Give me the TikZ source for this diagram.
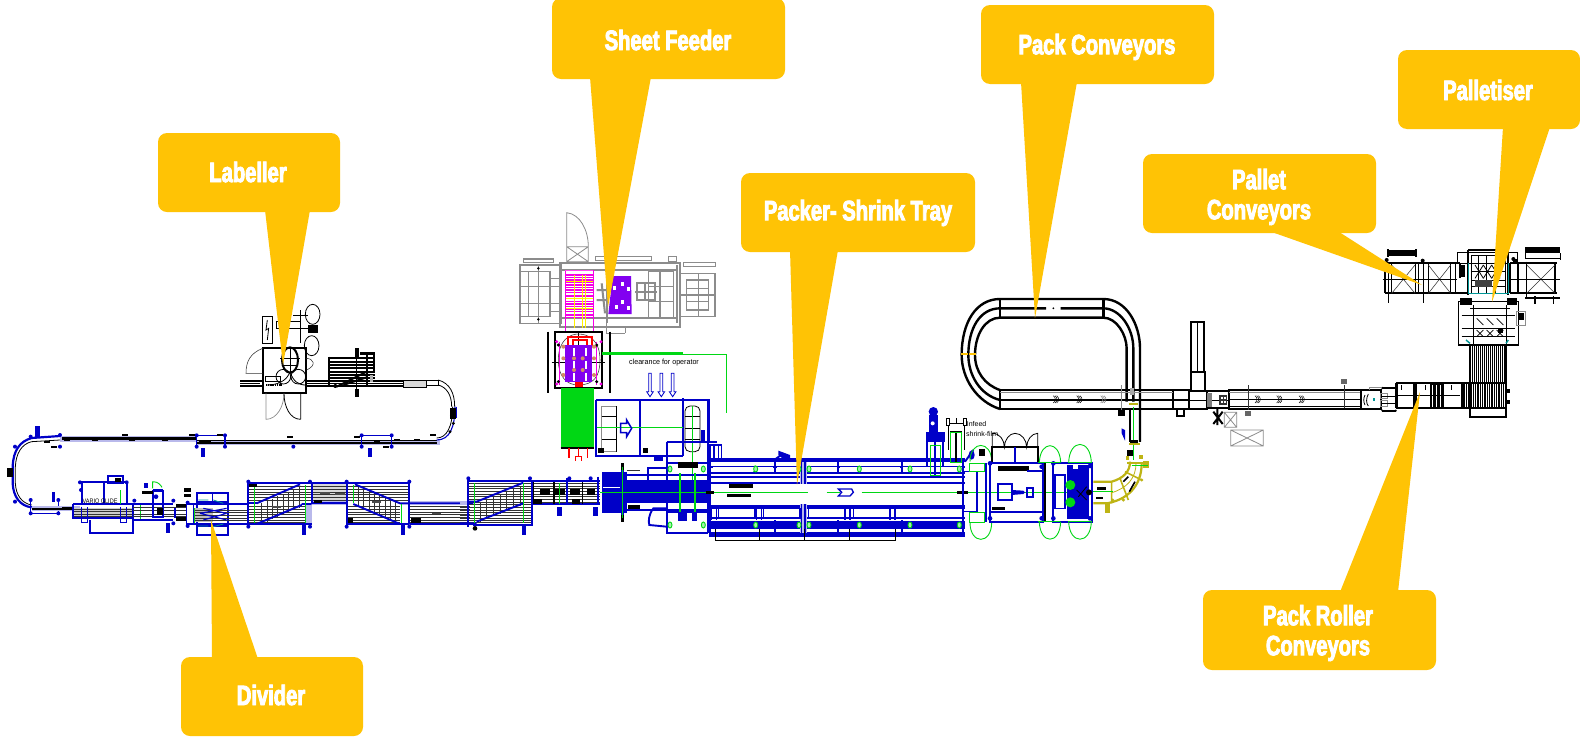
\documentclass[tikz,border=0pt]{standalone}
\usepackage{fontspec}
\newfontfamily\lab[FakeStretch=0.72,FakeBold=3.2]{Liberation Sans Bold}
\newfontfamily\cad{Liberation Sans}
\definecolor{cadb}{RGB}{0,0,200}
\definecolor{lav}{RGB}{185,185,235}
\definecolor{call}{RGB}{255,195,5}
\definecolor{cadg}{RGB}{0,215,20}
\definecolor{olv}{RGB}{190,180,20}
\definecolor{purp}{RGB}{130,0,240}
\definecolor{mag}{RGB}{245,0,230}
\definecolor{gry}{RGB}{140,140,140}
\definecolor{teal2}{RGB}{0,150,150}
\definecolor{tan2}{RGB}{210,140,100}
\tikzset{
 zoomat/.style 2 args={shift={(#1,#2)},x=.33333pt,y=-.33333pt},
 cb/.style={draw=cadb,line width=1.1pt},
 cbt/.style={draw=cadb,line width=1.9pt},
 cbf/.style={draw=cadb,line width=.6pt},
 kk/.style={draw=black,line width=.8pt},
 kt/.style={draw=black,line width=1.9pt},
 kl/.style={draw=black,line width=2.4pt},
 kf/.style={draw=black!80,line width=.55pt},
 gg/.style={draw=cadg,line width=.9pt},
 gy/.style={draw=gry,line width=.8pt},
 ol/.style={draw=olv,line width=1.6pt},
 calloutbox/.style={fill=call,rounded corners=9pt,draw=none},
 calltail/.style={fill=call,draw=none},
 calltext/.style={text=white,font=\lab\fontsize{28}{30}\selectfont,align=center,inner sep=0pt},
 smalltxt/.style={text=black,inner sep=0pt},
}
\newcommand{\postat}[2]{\fill[cadb] (#1,#2) circle (6);}
\newcommand{\chev}[3]{\foreach \d in {0,5,10}{\draw[draw=#3,line width=.5pt] ({#1+\d},#2-11) .. controls ({#1+\d+8},#2-4) and ({#1+\d+8},#2+4) .. ({#1+\d},#2+11);}}
\newcommand{\ovalat}[2]{\draw[gg,fill=cadg!35] (#1,#2) ellipse (6 and 9);}
\begin{document}
\begin{tikzpicture}[x=1pt,y=-1pt]
\useasboundingbox (0,0) rectangle (1580,737);
\fill[white] (0,0) rectangle (1580,737);

% ---------- left line: accumulation conveyors, vario glide, divider
\begin{scope}[zoomat={0}{300}]
 \fill[lav] (590,419) rectangle (1320,435);
 \fill[lav] (180,408) rectangle (590,427);
 \draw[kt] (1310,429) -- (590,429); \draw[kk] (1310,422)--(590,422);
 \draw[kt] (590,417) -- (185,417); \draw[kk] (590,411)--(185,411);
 \draw[cb] (590,406)--(675,406) (1085,406)--(1175,406);
 \draw[cb] (590,406)--(590,440) (675,406)--(675,440) (1085,406)--(1085,440) (1175,406)--(1175,440);
 \foreach \p in {590,675,1085,1175}{\postat{\p}{406}\postat{\p}{440}}
 \postat{880}{440}
 \foreach \x/\y in {375/405,285/420,395/420,495/420,575/405,660/405,785/428,985/428,870/412,1072/412,1300/405,1250/420,690/428,885/428,1190/420,200/420,140/425,625/425,1130/425,1158/440,162/440,605/425}{\fill[black] (\x-9,\y-3) rectangle (\x+9,\y+3);}
 \foreach \a/\b in {604/616,1103/1115}{\fill[cadb] (\a,445) rectangle (\b,470);}
 \fill[cadb] (104,378) rectangle (119,412); \fill[cadb] (155,575) rectangle (166,605);
 \draw[cb] (1365,320) .. controls (1365,380) and (1350,420) .. (1310,420);
 \draw[kk] (1358,320) .. controls (1358,380) and (1340,414) .. (1310,414);
 \foreach \c in {(1355,345),(1360,370),(1350,395)}{\fill[black] \c circle (5);}
 % U turn
 \draw[draw=cadb,line width=2.2pt] (180,408) -- (95,414) .. controls (60,424) and (40,450) .. (38,500) -- (38,550) .. controls (40,590) and (60,618) .. (95,622);
 \draw[kk] (180,420) -- (95,425) .. controls (65,432) and (48,460) .. (46,500) -- (46,550) .. controls (48,585) and (65,610) .. (95,615);
 \foreach \c in {(45,440),(45,605),(92,410),(180,405),(180,440)}{\fill[cadb] \c circle (6);}
 \fill[black] (22,505) rectangle (38,530);
 \draw[cb] (92,600)--(92,640)--(175,640)--(175,600);
 \postat{92}{600}\postat{175}{600}\postat{92}{640}\postat{175}{640}
 % conveyor to vario
 \fill[lav] (95,618) rectangle (240,632);
 \draw[kt] (95,626)--(240,626);
 \fill[black] (185,620) rectangle (215,630);
 % vario glide
 \fill[gray!40] (220,625) rectangle (400,655);
 \foreach \y in {628,635,642,649}{\draw[kf] (220,\y)--(400,\y);}
 \draw[cbt] (240,547)--(380,547) (247,547)--(247,612) (312,547)--(312,612) (380,547)--(380,612);
 \draw[cbt] (325,528) rectangle (370,548);
 \fill[black] (345,535) rectangle (362,546);
 \postat{243}{570}\postat{240}{547}\postat{380}{547}
 \draw[cbt] (220,612)--(400,612) (220,612)--(220,655)--(400,655);
 \draw[cb] (245,620)--(245,668)--(262,668)--(262,620) (362,620)--(362,668)--(380,668)--(380,620);
 \draw[cbt] (270,660)--(270,698)--(400,698)--(400,612);
 \draw[gg] (362,570)--(362,612) (420,615)--(420,660);
 \node[smalltxt,font=\cad\fontsize{6.5}{7}\selectfont,xscale=.85] (vario) at (300,604) {VARIO GLIDE};
 % between
 \draw[cbt] (400,612)--(520,612) (400,660)--(520,660);
 \foreach \y in {622,632,642,650}{\draw[kf] (400,\y)--(560,\y);}
 \postat{403}{602}\postat{520}{602}\postat{520}{670}
 \draw[cbt] (460,572) rectangle (490,652);
 \fill[black] (425,572) rectangle (458,582); \fill[cadb] (433,550) rectangle (443,565);
 \fill[cadb] (468,590) circle (7);
 \draw[gg] (458,545) -- (458,565) (458,545) .. controls (475,545) and (482,555) .. (486,562);
 \fill[black] (470,625) rectangle (490,645);
 \draw[cb] (460,570)--(490,570);
 \fill[black] (528,612) rectangle (558,622); \fill[black] (528,652) rectangle (558,662);
 \fill[cadb] (498,670) rectangle (510,698);
 \draw[cbt] (525,625) -- (525,655);
 \fill[black] (552,565) rectangle (572,575); \fill[black] (552,582) rectangle (572,592);
 % divider
 \draw[cbt] (590,578) rectangle (685,705);
 \draw[cb] (637,578)--(637,610) (637,672)--(637,705) (590,606)--(685,606) (590,678)--(685,678);
 \draw[cbt] (560,612)--(745,612) (560,672)--(745,672);
 \draw[cb] (560,605)--(560,680) (580,612)--(580,672);
 \postat{563}{608}\postat{563}{678}
 \draw[gg] (583,625)--(583,668);
 \fill[gray!50] (585,625) rectangle (640,665);
 \foreach \y in {630,638,646,654,660}{\draw[kf] (585,\y)--(745,\y);}
 \draw[cb] (610,625)--(680,640) (610,660)--(680,640) (600,640)--(680,625) (600,640)--(680,660);
 \draw[draw=teal2,line width=.8pt] (595,600)--(625,600) (640,600)--(670,610) (595,678)--(625,678) (640,680)--(670,672);
 % section 2
 \fill[gray!30] (935,552) rectangle (1040,608);
 \foreach \y in {560,568,576,584,592,600}{\draw[kf] (745,\y)--(1225,\y);}
 \foreach \y in {620,628,636,644,652,660,666}{\draw[kf] (745,\y)--(935,\y);}
 \foreach \y in {620,628,636,644,652,660,666}{\draw[kf] (1045,\y)--(1200,\y);}
 % hatching of the diverters
 \foreach \t in {0,1,...,7}{\draw[kf] ({785+\t*16},{610-\t*7}) -- ({785+\t*16},{672-\t*7});}
 \foreach \t in {0,1,...,7}{\draw[kf] ({1075+\t*16},{558+\t*7}) -- ({1075+\t*16},{620+\t*7});}
 \fill[lav] (935,602) rectangle (1040,616);
 \fill[lav] (917,616) rectangle (935,670);
 \fill[lav] (1230,603) rectangle (1405,612);
 \draw[cbt] (745,548)--(1230,548) (745,548)--(745,680) (745,672)--(935,672) (745,610)--(770,610);
 \draw[cbt] (770,610)--(900,553) (770,672)--(905,615) (905,612)--(935,612);
 \draw[cbt] (935,548)--(935,612) (935,610)--(1040,610) (1040,548)--(1040,680) (1040,672)--(1228,672);
 \draw[cbt] (1065,553)--(1200,610) (1060,612)--(1200,672) (1200,610)--(1420,610) (1228,672)--(1420,672);
 \draw[cbt] (1228,548)--(1228,672);
 \foreach \p in {745,930,1040,1228}{\postat{\p}{545}\postat{\p}{680}}
 \fill[cadb] (906,675) rectangle (918,705); \fill[cadb] (1203,675) rectangle (1215,705);
 \draw[gg] (762,555)--(762,668) (915,555)--(915,668) (1060,555)--(1060,610) (1205,612)--(1205,668);
 \foreach \x/\y in {830/620,1130/605,1020/582,1310/640,975/580}{\fill[black!70] ({\x-14},\y-3) rectangle (\x+14,\y+3);}
 \foreach \y in {620,628,636,644,652,660,666}{\draw[kf] (1230,\y)--(1410,\y);}
 \fill[black] (1232,655) rectangle (1262,668);
 \fill[black] (748,553) rectangle (770,562); \fill[black] (1044,655) rectangle (1060,668); \fill[black] (942,600) rectangle (965,610);
 \draw[cbt] (1405,530)--(1405,680);
\end{scope}

% ---------- labeller
\begin{scope}[zoomat={230}{290}]
 \draw[kt] (98,175) rectangle (228,310);
 \draw[kk] (96,80) rectangle (128,160);
 \draw[kk] (112,90)--(108,120)--(116,115)--(112,150);
 \draw[kk] (140,95) rectangle (210,115) (210,60) -- (210,160) (190,75)--(235,75) (210,115)--(265,115);
 \fill[black] (235,105) rectangle (265,130);
 \draw[kk] (248,73) ellipse (22 and 30) (245,167) ellipse (22 and 30);
 \draw[kf] (228,205) .. controls (250,205) and (262,225) .. (230,240);
 \draw[kf] (98,175) .. controls (60,190) and (48,215) .. (48,250) -- (98,250);
 \draw[draw=gry,line width=.7pt] (108,310)--(108,388) .. controls (140,388) and (162,350) .. (162,310);
 \draw[kk] (212,388) .. controls (180,388) and (162,350) .. (162,310) (212,310)--(212,388);
 \draw[line width=2pt] (180,210) ellipse (24 and 38);
 \draw[kk] (160,260) circle (22) (205,260) circle (22);
 \draw[kk] (180,175)--(180,250) (150,205)--(210,205) (155,225)--(205,225);
 \draw[kk] (180,245) .. controls (170,275) and (140,285) .. (110,285) (180,245) .. controls (190,275) and (205,285) .. (228,285);
 \draw[kk] (105,258) rectangle (150,275);
 \draw[line width=2pt,dash pattern=on 1.2pt off .6pt] (108,285)--(155,285);
 \draw[kt] (30,272)--(98,272) (30,288)--(98,288) (228,272)--(520,272) (228,288)--(520,288);
 \draw[kk] (30,280)--(90,280);
 \draw[kk] (228,280)--(520,280);
 \foreach \y in {205,215,225,235,245,255,265}{\draw[kt] (295,\y)--(435,\y);}
 \draw[kt] (297,200)--(297,285) (410,195)--(410,290) (433,195)--(433,250);
 \fill[black] (390,185) rectangle (435,195);
 \fill[black] (376,175) rectangle (386,200); \fill[black] (376,296) rectangle (388,320);
 \draw[kk] (380,200)--(380,300);
 \draw[kt] (320,290)--(410,245) (340,285)--(410,262);
 \fill[black] (316,288) circle (6);
 \fill[gray!60] (420,255) rectangle (430,275);
 \draw[kk,fill=gray!30] (520,270) rectangle (590,292);
 \draw[kk] (590,270) rectangle (625,285);
 \draw[kk] (625,270) .. controls (660,280) and (674,310) .. (674,350);
 \draw[kk] (625,285) .. controls (650,292) and (665,315) .. (665,350);
 \fill[black] (660,355) rectangle (678,388);
 \draw[cb] (680,350)--(680,385);
\end{scope}

% ---------- sheet feeder area
\begin{scope}[zoomat={460}{200}]
 % grey structures
 \draw[gy,line width=1.6pt] (180,195) rectangle (305,370) (205,215) rectangle (270,350) (270,235)--(305,235) (270,335)--(305,335) (180,215)--(205,215) (180,350)--(205,350);
 \draw[gy,line width=1.3pt] (190,177) rectangle (280,187) (180,260)--(305,260) (180,310)--(305,310) (235,195)--(235,370);
 \draw[gy,line width=1.7pt] (300,188) rectangle (660,380) (300,210)--(650,210) (300,355)--(650,355) (440,195)--(440,370) (650,195)--(650,370);
 \draw[gy] (405,170) rectangle (575,182) (625,170) rectangle (650,185);
 \draw[gy,line width=1.4pt] (565,215) rectangle (640,355) (565,260)--(640,260) (565,305)--(640,305) (600,215)--(600,355);
 \draw[gy,line width=1.8pt] (530,250) rectangle (585,300) (555,250)--(555,300) (525,275)--(590,275);
 \draw[gy,line width=1.6pt] (660,220) rectangle (765,350) (680,240) rectangle (745,330) (660,285)--(765,285) (715,220)--(715,350) (680,265)--(745,265) (680,305)--(745,305);
 \draw[gy] (670,187) rectangle (765,198);
 \draw[gy] (320,140) rectangle (385,185) (320,140)--(385,185) (385,140)--(320,185);
 \draw[gy] (320,140)--(320,38) .. controls (360,42) and (385,90) .. (385,140);
 \draw[gy] (440,370)--(440,400)--(495,400) (495,380)--(495,400);
 \draw[gy,line width=2pt] (425,250)--(435,340) (410,270)--(440,270) (410,300)--(440,300);
 \fill[black] (235,205) circle (4) (235,358) circle (4);
 % magenta conveyor
 \foreach \y in {225,232,240,248,255,262,270,278,288,295,305,312,320,328,335,345,352}{\draw[draw=mag,line width=1.5pt] (318,\y)--(398,\y);}
 \foreach \x in {342,368,376}{\draw[draw=yellow,line width=1pt] (\x,225)--(\x,383);}
 \foreach \y in {245,295,325}{\draw[draw=yellow,line width=1pt] (315,\y)--(400,\y);}
 \draw[draw=mag,line width=1.2pt] (316,210)--(316,395) (400,210)--(400,395);
 \draw[draw=mag!70,line width=.7pt] (315,210)--(400,210);
 % purple sheet
 \fill[purp] (458,228)--(513,228)--(515,342)--(445,342)--cycle;
 \foreach \x/\y in {463/265,488/252,505/268,488/305,505/325,470/322}{\fill[white] (\x-5,\y-6) rectangle (\x+5,\y+6);}
 % magazine
 \draw[kt] (285,397) rectangle (427,565);
 \draw[kt] (263,395)--(263,580) (449,395)--(449,580);
 \draw[kk] (275,488)--(435,488) (355,397)--(355,565);
 \draw[kf] (295,480) .. controls (295,420) and (330,402) .. (355,402) .. controls (385,402) and (420,420) .. (420,480) .. controls (420,530) and (400,555) .. (355,555) .. controls (320,555) and (295,530) .. (295,480);
 \draw[draw=mag,line width=1.4pt] (298,425)--(298,555) (410,425)--(410,555);
 \fill[mag] (290,425) circle (5) (423,425) circle (5) (290,552) circle (5) (423,552) circle (5);
 \foreach \x/\y in {295/435,410/435,295/545,410/545}{\fill[black] (\x,\y) circle (5);}
 \draw[draw=red,line width=2pt] (325,438)--(325,412) -- (395,412)--(395,438) (340,438)--(340,420)--(380,420)--(380,438);
 \fill[red] (345,545) rectangle (370,562);
 \fill[purp] (315,436) rectangle (395,547);
 \foreach \x in {342,378}{\foreach \y in {455,495,530}{\fill[white] (\x-3,\y-12) rectangle (\x+3,\y+12);}}
 \foreach \x/\y in {310/440,310/475,310/525,402/440,402/475,402/525,342/475,368/475,342/510,368/510}{\fill[tan2] (\x,\y) circle (6);}
 % green block
 \fill[cadg] (302,565) rectangle (402,740);
 \draw[kt] (302,743)--(402,743);
 \draw[draw=red,line width=1.5pt] (327,745)--(327,775) (383,745)--(383,775) (355,745)--(355,770) (346,782)--(346,770)--(364,770)--(364,782);
 % clearance line
 \draw[draw=cadg,line width=2.4pt] (425,460)--(670,460);
 \draw[gg,line width=1pt] (670,462)--(798,462)--(798,640);
 \node[smalltxt,font=\cad\fontsize{7.5}{8}\selectfont,xscale=.95] (clear) at (612,487) {clearance for operator};
 \foreach \x in {570,604,638}{\draw[cb,line width=.8pt] (\x-4,520)--(\x-4,575)--(\x-10,575)--(\x,590)--(\x+10,575)--(\x+4,575)--(\x+4,520)--cycle;}
 % packer infeed
 \draw[draw=cadb,line width=2.4pt] (408,600)--(745,600)--(745,725) (408,600)--(408,768)--(670,768);
 \draw[cbt] (540,600)--(540,768) (670,595)--(670,768) ;
 \draw[gy] (425,618) rectangle (470,755);
 \draw[kk] (470,618)--(470,755) (425,650)--(470,650) (425,718)--(470,718);
 \draw[kk,rounded corners=5pt] (675,618) rectangle (720,755);
 \foreach \y in {650,685,718}{\draw[kk] (675,\y)--(720,\y);}
 \draw[draw=cadg,line width=1.5pt] (410,683)--(670,683);
 \draw[gg] (697,618)--(697,870);
 \draw[cb,line width=1.5pt] (482,670)--(500,670)--(500,660)--(515,685)--(500,710)--(500,698)--(482,698)--cycle;
 \fill[black] (415,745) rectangle (432,760); \fill[black] (548,745) rectangle (563,760);
 \fill[cadb] (582,768) rectangle (610,782);
 \fill[cadb] (722,690) rectangle (735,725);
 \draw[cbt] (620,725) -- (770,725) (620,725)--(620,1000)--(745,1000) (745,725)--(745,1000) (620,790)--(745,790) (620,935)--(745,935);
 \draw[cb] (745,735)--(785,735) (750,735)--(750,785) (762,735)--(762,785) (775,735)--(775,785) (785,735)--(785,780);
 \fill[black] (655,785) rectangle (715,805);
 % blue dense section
 \fill[cadb] (425,815) rectangle (500,940);
 \fill[white] (430,860) rectangle (480,862);
 \fill[cadb] (500,840) rectangle (745,910);
 \draw[cbt] (500,825)--(745,825) (500,930)--(745,930);
 \draw[cbt] (565,850)--(565,805)--(620,805);
 \draw[cbt] (620,925)--(580,925) .. controls (565,945) and (565,965) .. (568,975) -- (620,980);
 \draw[cadb,line width=2.5pt] (487,790)--(487,965);
 \fill[black] (482,790) rectangle (493,810); \fill[black] (482,945) rectangle (493,965);
 \draw[draw=cadg,line width=1.4pt] (420,877)--(900,877) (487,800)--(487,955) (660,820)--(660,935) (705,820)--(705,935);
 \fill[cadb] (655,935) rectangle (680,962); \fill[cadb] (695,935) rectangle (710,962);
 \fill[black] (505,915) rectangle (540,928);
 \foreach \x/\y in {630/807,730/807,885/807,630/975,730/975,885/975}{\ovalat{\x}{\y}}
 \draw[kf] (500,810)--(540,810);
 % diverter and section before dense block
 \foreach \y in {850,858,866,874,882,890,898,906}{\draw[kf] (25,\y)--(420,\y);}
 \foreach \y in {914,922,930,938,946,954,962,968}{\draw[kf] (0,\y)--(215,\y);}
 \foreach \t in {0,1,...,6}{\draw[kf] ({60+\t*20},{905-\t*8}) -- ({60+\t*20},{965-\t*8});}
 \fill[lav] (0,905) rectangle (28,915);
 \draw[cbt] (50,905)--(190,848) (50,965)--(190,910) (25,905)--(50,905) (0,970)--(50,970);
 \draw[cbt] (215,842)--(420,842) (25,842)--(215,842) (215,842)--(215,975)--(40,975) (215,912)--(420,912) (25,842)--(25,975);
 \draw[cbt] (320,835)--(320,912) (415,830)--(415,912);
 \fill[black] (240,868) rectangle (270,885); \fill[black] (285,868) rectangle (315,885); \fill[black] (330,868) rectangle (360,885); \fill[black] (380,868) rectangle (405,885);
 \fill[black] (220,898) rectangle (245,912); \fill[black] (335,898) rectangle (360,912);
 \fill[black] (218,845) rectangle (222,912); \fill[black] (280,845) rectangle (284,912);\fill[black] (365,845) rectangle (368,912);
 \postat{25}{835}\postat{210}{835}\postat{328}{835}\postat{392}{835}
 \fill[cadb] (292,920) rectangle (305,948); \fill[cadb] (400,920) rectangle (413,948); \fill[cadb] (185,975) rectangle (197,1005);
 \fill[black] (45,985) circle (7);
 \draw[gg] (297,850)--(297,912) (190,850)--(190,970) (42,850)--(42,970);
\end{scope}

% ---------- packer
\begin{scope}[zoomat={690}{390}]
 \fill[cadb] (60,430) rectangle (825,440);
 \foreach \y in {212,230,248,262,278,347,355,385,397,415,430}{\draw[cbt] (60,\y)--(825,\y);}
 \fill[cadb] (60,205) rectangle (825,216);
 \fill[cadb] (60,395) rectangle (825,412);
 \draw[cb] (60,415)--(60,440) (60,205)--(60,440);
 \fill[white] (70,232) rectangle (250,244); \fill[white] (262,232) rectangle (440,244); \fill[white] (450,232) rectangle (630,244); \fill[white] (640,232) rectangle (820,244);
 \fill[lav] (330,215) rectangle (352,430);
 \draw[cb] (335,215)--(335,430) (345,215)--(345,430);
 \foreach \x in {255,445,635}{\fill[cadb] (\x-3,205) rectangle (\x+3,250);\fill[cadb] (\x-3,390) rectangle (\x+3,438);}
 \foreach \x/\w in {85/110,220/110,355/110,490/110}{\draw[cb] (\x,355) rectangle (\x+\w,385);}
 \foreach \x in {65,200,465,600}{\draw[cb] (\x,352)--(\x,390) (\x+15,352)--(\x+15,390);}
 \foreach \x in {197,327,357,508,660,808}{\ovalat{\x}{237}\ovalat{\x}{405}}
 \draw[kk] (75,418)--(75,450)--(615,450)--(615,418) (208,418)--(208,450) (344,418)--(344,450) (478,418)--(478,450);
 \fill[white] (62,283) rectangle (820,342);
 \fill[black] (118,282) rectangle (190,294);
 \fill[black] (112,312) rectangle (183,322);
 \draw[draw=cadg,line width=1.3pt] (0,307)--(355,307) (410,307)--(450,307) (515,307)--(1190,307);
 \draw[cb,line width=1.3pt] (445,297)--(485,297)--(490,307)--(480,318)--(445,318)--(455,307)--cycle;
 \fill[black] (48,303) rectangle (72,311); \fill[black] (800,303) rectangle (835,311);
 \fill[cadb] (265,182)--(300,195)--(300,212)--(285,212)--(265,195)--cycle;
 \draw[cbt] (250,212)--(280,190);
 % film unit
 \fill[cadb] (730,65) circle (14);
 \fill[cadb] (707,125) rectangle (765,155);
 \fill[cadb] (718,75) rectangle (745,130);
 \fill[white] (728,100) circle (6);
 \draw[cbt] (712,155)--(712,230) (760,155)--(760,230) (735,155)--(735,255);
 \draw[gg] (720,165) rectangle (752,255);
 % shrink film
 \draw[kk] (770,85) rectangle (778,105) (820,85) rectangle (828,105) (778,100)--(820,100) (800,85)--(800,100) (775,105)--(775,180) (823,105)--(823,180);
 \draw[kk] (780,125)--(815,125);
 \draw[kt] (798,125)--(798,215);
 \draw[gg] (782,127) rectangle (815,218);
 \node[smalltxt,font=\cad\fontsize{7}{8}\selectfont,anchor=west] (infeed) at (830,103) {Infeed};
 \node[smalltxt,font=\cad\fontsize{7}{8}\selectfont,anchor=west] (film) at (828,132) {shrink-film};
 % wrapper frame
 \draw[cbt] (820,215)--(820,432) (860,245)--(860,365) (888,220)--(888,395);
 \draw[cb] (820,245)--(860,245) (820,365)--(860,365);
 \draw[gg] (838,220) rectangle (884,243) (838,368) rectangle (884,397);
 \fill[cadb] (845,195) ellipse (9 and 14); \draw[cbt] (825,215)--(850,180);
 \draw[gg] (840,215) .. controls (840,150) and (905,150) .. (905,215);
 \draw[gg] (840,397) .. controls (840,465) and (905,465) .. (905,397);
 \fill[black] (868,178) rectangle (886,198);
 \draw[kt] (907,172) rectangle (1043,218); \draw[cb] (975,172)--(975,218);
 \draw[kk] (907,172) -- (907,130) .. controls (930,130) and (943,150) .. (943,172) .. controls (943,150) and (958,130) .. (975,130) .. controls (995,130) and (1010,150) .. (1010,172) .. controls (1010,150) and (1025,130) .. (1043,130) -- (1043,172);
 \draw[draw=cadb,line width=2.2pt] (900,220) rectangle (1060,395);
 \fill[black] (925,227) rectangle (1018,242);
 \draw[cbt] (1010,242)--(1060,242) (900,365)--(1060,365);
 \fill[black] (905,350) rectangle (945,360);
 \draw[cbt] (925,283) rectangle (965,330);
 \fill[cadb] (965,300)--(1000,302)--(1005,307)--(1000,312)--(965,315)--cycle;
 \draw[cbt] (1012,295) rectangle (1030,320);
 \draw[kt] (1065,220)--(1065,395);
 \draw[draw=cadb,line width=2.2pt] (1090,220) rectangle (1205,395);
 \draw[cb] (1095,255) rectangle (1125,355);
 \fill[cadb] (1130,225) rectangle (1198,388);
 \fill[white] (1150,226) rectangle (1165,237);
 \fill[cadg] (1141,285) circle (15) (1141,337) circle (15);
 \draw[kk] (1160,300)--(1190,330) (1190,290)--(1165,320);
 \fill[black] (1197,307) circle (9);
 \foreach \x/\y in {900/220,1055/230,900/385,1055/385,1090/220,1200/228,1090/385,1200/385}{\fill[cadb] (\x,\y) circle (7);}
 \draw[draw=cadg,line width=1.1pt] (1045,218)--(1110,218) (1045,395)--(1110,395) (1135,218)--(1205,218) (1135,395)--(1205,395);
 \draw[gg] (1048,218) .. controls (1050,150) and (1110,150) .. (1112,218);
 \draw[gg] (1048,395) .. controls (1050,465) and (1110,465) .. (1112,395);
 \draw[gg] (1136,218) .. controls (1138,145) and (1202,145) .. (1204,218);
 \draw[gg] (1136,395) .. controls (1138,465) and (1202,465) .. (1204,395);
\end{scope}

% ---------- pack conveyors loop
\begin{scope}[zoomat={940}{285}]
 \fill[gray!45] (180,38) rectangle (490,44);
 \draw[kl] (180,372) .. controls (110,350) and (65,280) .. (65,210) .. controls (65,110) and (110,42) .. (180,42) -- (490,42) .. controls (560,42) and (600,120) .. (600,190) -- (600,470);
 \draw[kl] (180,345) .. controls (120,330) and (85,270) .. (85,210) .. controls (85,130) and (120,70) .. (180,70) -- (318,70);
 \draw[kl] (362,70) -- (490,70) .. controls (540,70) and (580,130) .. (580,190) -- (580,350);
 \draw[kl] (180,315) .. controls (135,300) and (105,260) .. (105,210) .. controls (105,150) and (135,98) .. (180,98) -- (490,98) .. controls (530,98) and (560,150) .. (560,190) -- (560,350);
 \fill[black] (340,70) circle (3);
 \draw[kl] (180,42)--(180,98) (180,315)--(180,372) (490,42)--(490,98);
 \draw[draw=call,line width=2.2pt] (63,208)--(83,208) (88,208)--(108,208);
 \draw[kk,line width=1.1pt] (180,315)--(750,315) (180,345)--(750,345);
 \draw[kt] (180,372)--(750,372);
 \draw[kt] (700,315) rectangle (748,372);
 \draw[kt] (710,372) rectangle (733,392);
 \draw[gy] (180,322)--(700,322);
 \chev{340}{343}{black}
 \chev{410}{343}{black}
 \chev{482}{343}{gray}
 \draw[gy] (544,300)--(544,378);
 \fill[black!75] (535,378) rectangle (555,393);
 \fill[gray!70] (570,310) rectangle (582,330);
 \draw[kl] (570,372)--(570,470);
 \draw[kl] (600,372)--(600,470);
\end{scope}

% ---------- olive curved conveyor
\begin{scope}[zoomat={1070}{400}]
 \draw[draw=cadg,line width=1.1pt] (190,20)--(190,180);
 \draw[ol,line width=2pt] (178,133)--(210,133) (172,190)--(235,190);
 \fill[olv] (178,10) rectangle (205,15);
 \fill[black] (180,120) rectangle (205,130);
 \fill[black] (172,150) rectangle (188,168);
 \fill[black] (145,30) rectangle (165,48);
 \fill[cadb] (155,85)--(165,90)--(165,122)--(155,100)--cycle;
 \fill[olv] (220,183) rectangle (238,203);
 \fill[olv] (168,168) rectangle (178,180);
 \fill[olv] (208,166) rectangle (218,178);
 \draw[ol,line width=2.2pt] (70,310)--(110,310) .. controls (170,300) and (215,260) .. (215,190);
 \draw[ol,line width=2.2pt] (70,245)--(125,245) .. controls (160,235) and (180,215) .. (180,185);
 \draw[draw=olv,line width=.8pt] (125,278) .. controls (170,265) and (198,235) .. (198,190);
 \draw[ol] (125,245)--(125,310) (165,215)--(215,240) (150,235)--(175,300) ;
 \fill[olv] (105,310) rectangle (120,340);
 \draw[draw=cadg,line width=.9pt] (70,275)--(130,275) (185,195)--(235,195);
 \draw[kk,line width=1.6pt] (178,275)--(195,245) (160,245)--(175,230);
 \fill[black] (82,260) rectangle (108,270);
 \fill[black] (78,292) rectangle (98,298);
 \fill[olv] (160,300) circle (5) (215,240) circle (5) (128,300) circle (5);
\end{scope}

% ---------- conveyor to palletiser
\begin{scope}[zoomat={1190}{310}]
 \draw[kt] (3,35) rectangle (42,185) (3,185) rectangle (45,243);
 \draw[kk] (22,35)--(22,185);
 \draw[kt] (0,243) -- (50,243)--(50,298)--(0,298);
 \draw[kk] (0,270)--(115,270);
 \draw[kt] (50,243)--(117,243) (50,295)--(117,295);
 \fill[gray] (50,250) rectangle (66,290);
 \fill[black!80] (88,255) rectangle (112,285);
 \fill[white] (93,262) rectangle (98,268); \fill[white] (103,262) rectangle (108,268); \fill[white] (93,274) rectangle (98,280); \fill[white] (103,274) rectangle (108,280);
 \draw[line width=2pt] (82,292)--(82,345) (70,305)--(98,342) (70,342)--(98,305);
 \draw[gy] (103,307) rectangle (140,352) (103,307)--(140,352) (103,352)--(140,307);
 \draw[gy] (122,360) rectangle (220,408) (122,360)--(220,408) (122,408)--(220,360);
 \draw[kt] (117,240) rectangle (512,296);
 \draw[gy] (117,248)--(512,248);
 \draw[kk,line width=1pt] (117,267)--(512,267) (117,288)--(512,288);
 \chev{195}{268}{black}
 \chev{260}{268}{black}
 \chev{327}{268}{black}
 \draw[kf] (174,225)--(174,300) (462,225)--(462,295);
 \fill[black!60] (452,207) rectangle (470,222);
 \fill[black!60] (166,303) rectangle (184,318);
 \draw[kt] (512,240) rectangle (572,296);
 \draw[gy] (538,232) -- (572,232) (538,232)--(538,240);
 \draw[kk] (525,255) .. controls (520,265) and (520,275) .. (525,285) (535,252) .. controls (528,265) and (528,280) .. (535,288);
 \fill[teal2] (548,265) rectangle (555,272);
 \draw[gy] (572,250) rectangle (592,265) (572,272) rectangle (592,290);
 \draw[kt] (577,234)--(617,234) (577,302)--(617,302);
 \fill[black] (577,234) circle (3.5) (617,234) circle (3.5) (577,302) circle (3.5) (617,302) circle (3.5);
 \draw[kk] (572,260)--(620,260) (572,280)--(620,280);
 \draw[kt] (620,220)--(810,220) (620,295)--(810,295) (620,220)--(620,295);
 \fill[black] (670,216) rectangle (682,298);
 \fill[black] (720,216) rectangle (762,298);
 \foreach \x in {728,740,750}{\draw[draw=white,line width=.5pt] (\x,225)--(\x,290);}
 \foreach \x in {635,705,785}{\draw[kk] (\x,225)--(\x,240);}
 \draw[kk] (620,255)--(810,255);
\end{scope}

% ---------- palletiser group
\begin{scope}[zoomat={1360}{230}]
 % rollers
 \foreach \x in {305,312,...,440}{\draw[kk,line width=1.4pt] (\x,460)--(\x,535);}
 \foreach \x in {332,338,...,438}{\draw[kk,line width=1.3pt] (\x,345)--(\x,460);}
 \draw[kt] (330,345)--(330,560)--(438,560)--(438,345) (300,460)--(438,460) (300,535)--(438,535);
 \draw[kt] (305,460)--(305,535);
 \fill[black] (435,478) rectangle (450,490); \fill[black] (435,510) rectangle (450,522);
 % frames
 \draw[kt] (108,460)--(305,460) (108,535)--(305,535) (108,460)--(108,535);
 \draw[kk,line width=1.2pt] (295,215) rectangle (475,345);
 \draw[kk] (305,255)--(465,255) (305,295)--(465,295) (305,320)--(465,320) (340,225)--(340,345) (440,225)--(440,345) (330,235)--(450,235);
 \foreach \x in {350,380,410}{\draw[kk] (\x,300)--(\x+20,320) (\x+20,300)--(\x,320) (\x,265)--(\x+20,285);}
 \fill[black] (415,295) rectangle (430,310);
 \fill[black] (300,205) rectangle (335,225); \fill[black] (440,205) rectangle (470,225);
 \draw[gy] (470,245) rectangle (495,285);
 \fill[black] (478,248) rectangle (492,270);
 \draw[draw=teal2,line width=1.4pt] (318,330)--(330,340) (445,330)--(438,340);
 % top cell
 \draw[kk,line width=1.2pt] (292,68) rectangle (472,100);
 \draw[kt] (325,60)--(325,195) (445,60)--(445,195) (325,60)--(445,60);
 \draw[kk] (335,75) rectangle (435,190);
 \foreach \y in {100,125,150,170}{\draw[kk] (335,\y)--(435,\y);}
 \foreach \x in {355,380,405}{\draw[kk] (\x,75)--(\x,190); \draw[kk] (\x-10,105)--(\x+15,145) (\x+15,105)--(\x-10,145);}
 \fill[black!75] (345,150) rectangle (395,170);
 \draw[draw=teal2,line width=1.5pt] (325,100)--(325,190)--(445,190)--(445,100);
 \draw[kt] (300,100)--(300,145);
 \fill[black] (298,105) rectangle (316,140);
 \fill[black] (460,88) rectangle (472,102);
 % pallet conveyors
 \draw[kt] (75,100)--(300,100) (75,190)--(320,190) (75,100)--(75,190);
 \draw[kk,line width=1pt] (85,100)--(85,218) (95,100)--(95,190) (165,100)--(165,190) (175,100)--(175,190) (190,100)--(190,220) (205,100)--(205,190) (272,100)--(272,190) (285,100)--(285,190);
 \draw[kf] (95,105)--(165,190) (95,190)--(165,105) (205,105)--(272,190) (205,190)--(272,105);
 \draw[kk] (68,148)--(290,148);
 \fill[black] (80,90) circle (6) (188,92) circle (6);
 \fill[black] (80,58) rectangle (86,82); \fill[black] (165,58) rectangle (171,82); \fill[black] (85,60) rectangle (166,78);
 \draw[kt] (450,100)--(590,100) (450,190)--(590,190) (450,100)--(450,190) (475,100)--(475,190) (585,100)--(585,190);
 \draw[kf] (500,105)--(585,190) (500,190)--(585,105);
 \draw[kk] (450,148)--(600,148) (500,95)--(500,205);
 \fill[black] (495,50) rectangle (600,70);
 \draw[kk] (495,70)--(495,85) (600,70)--(600,90) (495,85)--(600,85);
 \foreach \x in {522,578}{\fill[black] (\x,198) rectangle (\x+5,222);}
 \draw[kt] (495,205)--(600,205);
 \fill[black] (460,87) circle (6);
\end{scope}

% ---------- callouts
\fill[calltail] (265,210)--(310,210)--(283,365)--cycle;
\fill[calloutbox] (158,133) rectangle (340,212);
\fill[calltail] (590,77)--(651,77)--(608,307)--cycle;
\fill[calloutbox] (552,-2) rectangle (785,79);
\fill[calltail] (1021,82)--(1077,82)--(1035,318)--cycle;
\fill[calloutbox] (981,5) rectangle (1214,84);
\fill[calltail] (1503,127)--(1550,127)--(1492,302)--cycle;
\fill[calloutbox] (1398,50) rectangle (1580,129);
\fill[calltail] (1266,230)--(1336,230)--(1422,285)--cycle;
\fill[calloutbox] (1143,154) rectangle (1376,233);
\fill[calltail] (790,250)--(838,250)--(797,485)--cycle;
\fill[calloutbox] (741,173) rectangle (975,252);
\fill[calltail] (1340,592)--(1398,592)--(1420,392)--cycle;
\fill[calloutbox] (1203,590) rectangle (1436,670);
\fill[calltail] (212,659)--(258,659)--(211,520)--cycle;
\fill[calloutbox] (181,657) rectangle (363,736);

\node[calltext] (labeller) at (248,172) {Labeller};
\node[calltext] (sheet) at (668,40) {Sheet Feeder};
\node[calltext] (pack) at (1097,47) {Pack Conveyors};
\node[calltext] (pall) at (1488,90) {Palletiser};
\node[calltext] (pallconv) at (1259,197) {Pallet\\Conveyors};
\node[calltext] (packer) at (858,213) {Packer- Shrink Tray};
\node[calltext] (roller) at (1318,633) {Pack Roller\\Conveyors};
\node[calltext] (divider) at (271,695) {Divider};
\end{tikzpicture}
\end{document}
